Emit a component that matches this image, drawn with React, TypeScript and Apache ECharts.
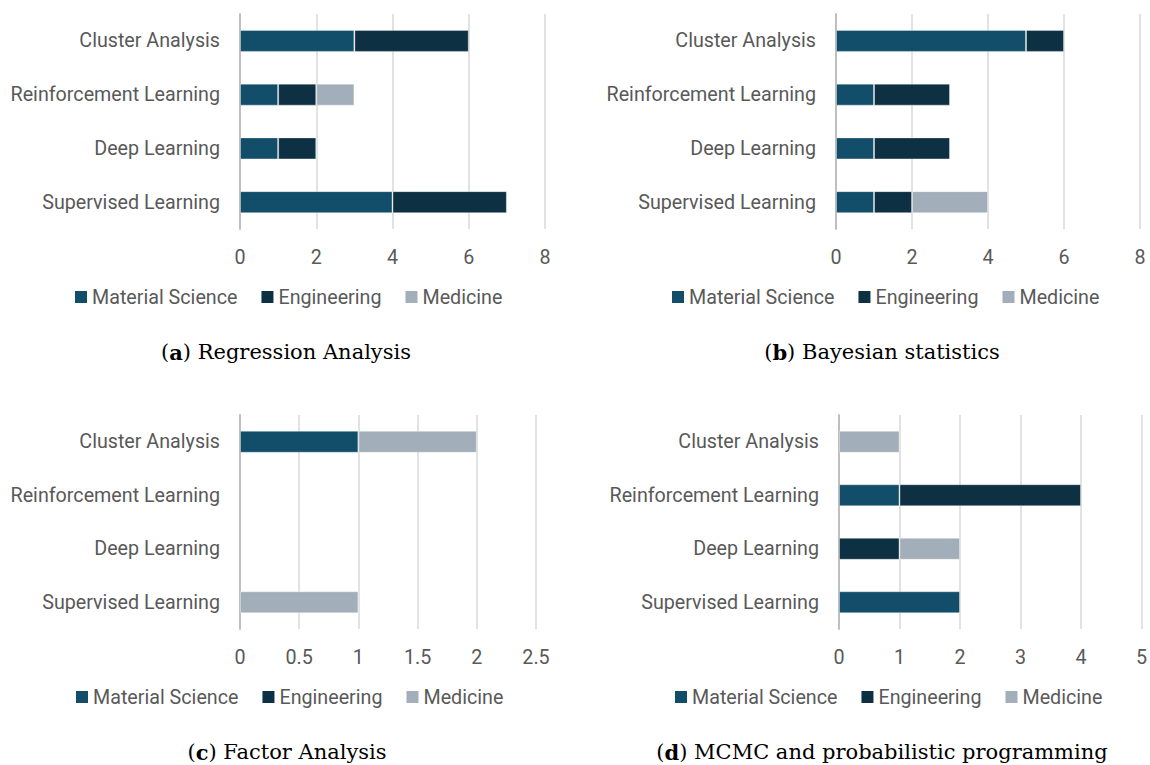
import React, { useEffect, useRef } from "react";
import * as echarts from "echarts";

// Categories, bottom to top (ECharts category axis order)
const categories = ["Supervised Learning", "Deep Learning", "Reinforcement Learning", "Cluster Analysis"];
const seriesNames = ["Material Science", "Engineering", "Medicine"];

// (a) Regression Analysis
const aMaterial = [4, 1, 1, 3];
const aEngineering = [3, 1, 1, 3];
const aMedicine = [0, 0, 1, 0];
// (b) Bayesian statistics
const bMaterial = [1, 1, 1, 5];
const bEngineering = [1, 2, 2, 1];
const bMedicine = [2, 0, 0, 0];
// (c) Factor Analysis
const cMaterial = [0, 0, 0, 1];
const cEngineering = [0, 0, 0, 0];
const cMedicine = [1, 0, 0, 1];
// (d) MCMC and probabilistic programming
const dMaterial = [2, 0, 1, 0];
const dEngineering = [0, 1, 3, 0];
const dMedicine = [0, 1, 0, 1];

const xMaxA = 8, xIntA = 2;
const xMaxB = 8, xIntB = 2;
const xMaxC = 2.5, xIntC = 0.5;
const xMaxD = 5, xIntD = 1;

const captionLetters = ["a", "b", "c", "d"];
const captionTitles = ["Regression Analysis", "Bayesian statistics", "Factor Analysis", "MCMC and probabilistic programming"];

const colors = ["#124E6A", "#0D3042", "#A2AEB9"];
const textColor = "#595959";
const sansFont = "Roboto";
const fs = 19.7;

export default function App() {
  const ref = useRef<HTMLDivElement>(null);
  useEffect(() => {
    document.body.style.margin = "0";
    const chart = echarts.init(ref.current!, null, { renderer: "svg" });

    const panels = [
      { data: [aMaterial, aEngineering, aMedicine], max: xMaxA, interval: xIntA, grid: { left: 240, top: 14, width: 305, height: 215 } },
      { data: [bMaterial, bEngineering, bMedicine], max: xMaxB, interval: xIntB, grid: { left: 836, top: 14, width: 304, height: 215 } },
      { data: [cMaterial, cEngineering, cMedicine], max: xMaxC, interval: xIntC, grid: { left: 240, top: 415, width: 296, height: 214 } },
      { data: [dMaterial, dEngineering, dMedicine], max: xMaxD, interval: xIntD, grid: { left: 839, top: 415, width: 304, height: 214 } },
    ];
    const legendPos = [
      { left: 70, top: 282 },
      { left: 667, top: 282 },
      { left: 71, top: 682 },
      { left: 670, top: 682 },
    ];
    const captionPos = [
      { x: 286, y: 352 },
      { x: 882, y: 352 },
      { x: 287, y: 752 },
      { x: 882, y: 752 },
    ];

    const series: any[] = [];
    panels.forEach((p, gi) => {
      p.data.forEach((arr, si) => {
        series.push({
          type: "bar",
          name: seriesNames[si],
          stack: "s" + gi,
          xAxisIndex: gi,
          yAxisIndex: gi,
          barWidth: 22,
          data: arr.map((v) => (v === 0 ? null : v)),
          itemStyle: { color: colors[si], borderColor: "rgba(255,255,255,0.35)", borderWidth: 1 },
        });
      });
    });

    const option: any = {
      animation: false,
      color: colors,
      grid: panels.map((p) => ({ ...p.grid, containLabel: false })),
      xAxis: panels.map((p, gi) => ({
        type: "value",
        gridIndex: gi,
        min: 0,
        max: p.max,
        interval: p.interval,
        axisLine: { show: false },
        axisTick: { show: false },
        splitLine: { show: true, lineStyle: { color: "#D9D9D9", width: 1.5 } },
        axisLabel: { color: textColor, fontSize: fs, fontFamily: sansFont, margin: 18 },
      })),
      yAxis: panels.map((p, gi) => ({
        type: "category",
        gridIndex: gi,
        data: categories,
        axisLine: { show: true, lineStyle: { color: "#BFBFBF", width: 2 } },
        axisTick: { show: false },
        axisLabel: { color: textColor, fontSize: fs, fontFamily: sansFont, margin: 20 },
      })),
      legend: legendPos.map((lp) => ({
        ...lp,
        orient: "horizontal",
        data: seriesNames,
        icon: "rect",
        itemWidth: 12,
        itemHeight: 12,
        itemGap: 24,
        selectedMode: false,
        itemStyle: { borderWidth: 0 },
        textStyle: { color: textColor, fontSize: fs, fontFamily: sansFont },
      })),
      series,
      graphic: captionPos.map((cp, i) => ({
        type: "text",
        x: cp.x,
        y: cp.y,
        style: {
          text: "(" + "{b|" + captionLetters[i] + "}" + ") " + captionTitles[i],
          fontFamily: "DejaVu Serif",
          fontSize: 21,
          fill: "#000",
          align: "center",
          verticalAlign: "middle",
          rich: { b: { fontWeight: "bold", fontFamily: "DejaVu Serif", fontSize: 21, fill: "#000" } },
        },
      })),
    };
    chart.setOption(option);
    return () => chart.dispose();
  }, []);
  return <div ref={ref} style={{ width: 1150, height: 765 }} />;
}
